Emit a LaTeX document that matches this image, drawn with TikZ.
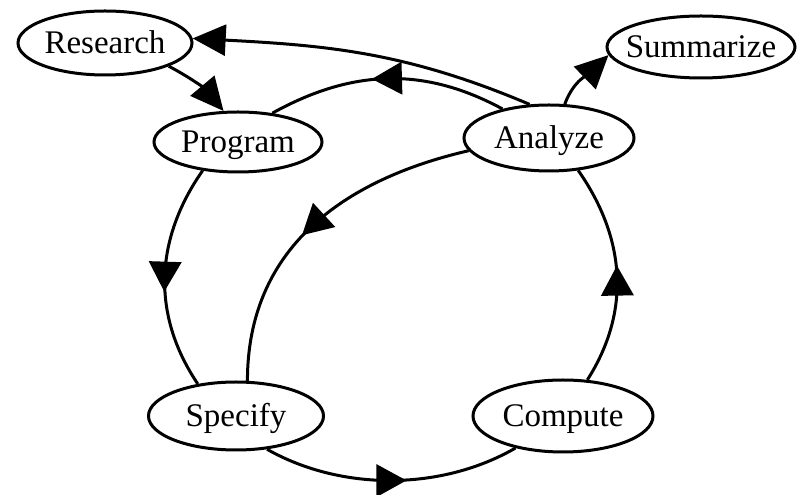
\documentclass[tikz,border=0pt]{standalone}
\usepackage{fontspec}
\setmainfont{Liberation Serif}
\usetikzlibrary{shapes.geometric,arrows.meta,decorations.markings}
\newcommand{\statefont}{\fontsize{33}{36}\selectfont}
\tikzset{
  state/.style={ellipse, draw, line width=3pt, inner sep=0pt,
    font=\statefont, text height=22pt, text depth=0pt},
  link/.style={draw, line width=3pt},
  endtip/.style={-{Triangle[length=33pt,width=31pt]}},
  midarrow/.style={postaction={decorate}, decoration={markings,
    mark=at position #1 with {\fill (15pt,0pt) -- (-15pt,16.5pt) -- (-15pt,-16.5pt) -- cycle;}}},
  midarrow/.default=0.5
}
\begin{document}
\begin{tikzpicture}[x=1pt,y=1pt]
\useasboundingbox (0,0) rectangle (804,495);
\node[state, minimum width=174pt, minimum height=64pt] (Research) at (105,452) {\makebox[0pt]{Research}};
\node[state, minimum width=168pt, minimum height=60pt] (Program) at (238,353) {\makebox[0pt]{Program}};
\node[state, minimum width=170pt, minimum height=66pt] (Analyze) at (549,357) {\makebox[0pt]{Analyze}};
\node[state, minimum width=188pt, minimum height=62pt] (Summarize) at (701,448) {\makebox[0pt]{Summarize}};
\node[state, minimum width=175pt, minimum height=68pt] (Specify) at (236,79) {\makebox[0pt]{Specify}};
\node[state, minimum width=180pt, minimum height=72pt] (Compute) at (563,79) {\makebox[0pt]{Compute}};

% big cycle
\path[link, midarrow] (Program.219) to[out=235, in=124] (Specify.140);
\path[link, midarrow] (Specify.313) to[out=-29.5, in=210, looseness=0.88] (Compute.214);
\path[link, midarrow=0.47] (Compute.56) to[out=57.5, in=-55] (Analyze.312);
\path[link, midarrow] (Analyze.148.5) to[out=151.6, in=29] (Program.40.6);
% inner
\path[link, midarrow=0.5] (Analyze.189) to[out=193, in=90, looseness=1.05] (Specify.72);
% side edges
\draw[link, endtip] (Analyze.120) to[out=157, in=-3] (Research.3);
\draw[link, endtip] (Research.-20.5) to[out=-28, in=130] (Program.115);
\draw[link, endtip] (Analyze.65) to[out=70, in=224] (Summarize.185);
\end{tikzpicture}
\end{document}
